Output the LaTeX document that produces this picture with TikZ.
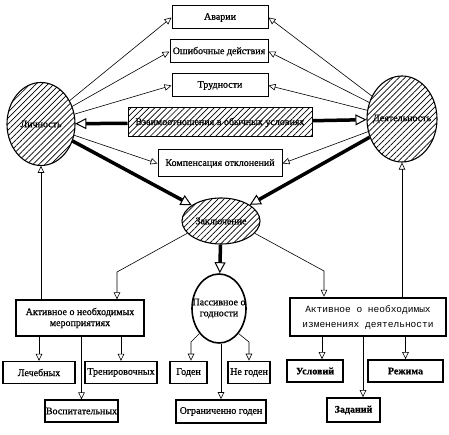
\documentclass[tikz,border=0pt]{standalone}
\usepackage{fontspec}
\setmainfont{Liberation Serif}[RawFeature={embolden=0.7}]
\newfontfamily\typefont{Liberation Mono}
\usetikzlibrary{arrows.meta,shapes.geometric,patterns.meta}

\begin{document}
\begin{tikzpicture}[
    x=1pt, y=-1pt,
    every node/.style={font=\fontsize{10}{11}\selectfont},
    box/.style={
        draw,
        line width=1pt,
        inner sep=1pt,
        minimum width=70pt,
        minimum height=22pt
    },
    hatch/.style={pattern={Lines[angle=45,distance=4.2pt,line width=0.7pt]}},
    blob/.style={
        draw,
        ellipse,
        line width=1.1pt,
        inner xsep=-14pt,
        inner ysep=-4pt,
        align=center
    },
    arr/.style={-{Triangle[open,length=7pt,width=6.5pt]}, line width=0.6pt},
    barr/.style={-{Triangle[open,length=11pt,width=11pt,line width=1pt]}, line width=3.5pt}
]
    \useasboundingbox (0,0) rectangle (449,435);

    % Personality and activity
    \node[blob, hatch, minimum width=68pt, minimum height=83pt] (lich) at (41,124) {Личность};
    \node[blob, hatch, minimum width=70pt, minimum height=86pt] (deyat) at (402,119) {Деятельность};

    % Middle boxes
    \node[box, minimum width=96pt, minimum height=23pt] (avar) at (220,17.5) {Аварии};
    \node[box, minimum width=98pt, minimum height=23pt] (oshib) at (219,51.5) {Ошибочные действия};
    \node[box, minimum width=96pt, minimum height=23pt] (trud) at (220,85.5) {Трудности};
    \node[box, hatch, minimum width=184pt, minimum height=29pt] (vzaim) at (220,122.5) {Взаимоотношения в обычных условиях};
    \node[box, minimum width=124pt, minimum height=27pt] (komp) at (220,163.5) {Компенсация отклонений};

    % Conclusion
    \node[blob, hatch, minimum width=78pt, minimum height=46pt] (zakl) at (221,221) {Заключение};
    \node[blob, line width=1.6pt, minimum width=54pt, minimum height=69pt] (pass) at (219,308.5) {Пассивное о\\годности};

    % Active measures
    \node[box, align=center, line width=1.3pt, minimum width=128pt, minimum height=36pt] (akt1) at (80,318) {Активное о необходимых\\мероприятиях};
    \node[box, align=center, line width=2.5pt, minimum width=156pt, minimum height=38pt,
        font=\typefont\fontsize{9.5}{15}\selectfont] (akt2) at (368,317) {Активное о необходимых\\изменениях деятельности};

    % Bottom row
    \node[box, line width=1.3pt, minimum width=72pt] (lech) at (39,372.5) {Лечебных};
    \node[box, line width=1.3pt, minimum width=72pt] (tren) at (121,372.5) {Тренировочных};
    \node[box, line width=1.3pt, minimum width=73pt] (vosp) at (81.5,411) {Воспитательных};
    \node[box, line width=1.6pt, minimum width=37pt] (goden) at (188.5,372.5) {Годен};
    \node[box, line width=1.6pt, minimum width=42pt] (negoden) at (249,372.5) {Не годен};
    \node[box, line width=1.6pt, minimum width=90pt, minimum height=23pt] (ogr) at (221,411.5) {Ограниченно годен};
    \node[box, line width=1.8pt, minimum width=56pt, font=\bfseries\fontsize{10}{11}\selectfont] (usl) at (315,371) {Условий};
    \node[box, line width=1.8pt, minimum width=75pt, font=\bfseries\fontsize{10}{11}\selectfont] (rezh) at (405.5,371) {Режима};
    \node[box, line width=1.8pt, minimum width=53pt, minimum height=24pt, font=\bfseries\fontsize{10}{11}\selectfont] (zad) at (353.5,410) {Заданий};

    % Bends
    \coordinate (b1) at (117,272);
    \coordinate (b2) at (324,271);
    \coordinate (b3) at (191,342);
    \coordinate (b4) at (249,342);

    % Arrows from personality
    \draw[arr] (lich) -- (avar.west);
    \draw[arr] (lich) -- (oshib.west);
    \draw[arr] (lich) -- (trud.west);
    \draw[arr] (lich) -- (komp.west);
    \draw[barr] (vzaim) -- (lich);
    \draw[barr] (lich) -- (zakl);

    % Arrows from activity
    \draw[arr] (deyat) -- (avar.east);
    \draw[arr] (deyat) -- (oshib.east);
    \draw[arr] (deyat) -- (trud.east);
    \draw[arr] (deyat) -- (komp.east);
    \draw[barr] (vzaim) -- (deyat);
    \draw[barr] (deyat) -- (zakl);

    % From conclusion
    \draw[barr] (zakl) -- (pass);
    \draw[arr] (zakl.200) -- (b1) -- (b1 |- akt1.north);
    \draw[arr] (zakl.340) -- (b2) -- (b2 |- akt2.north);
    \draw[arr] (akt1.north -| lich.south) -- (lich.south);
    \draw[arr] (akt2.north -| deyat.south) -- (deyat.south);

    % Outcomes
    \draw[arr] (akt1.south -| lech.north) -- (lech.north);
    \draw[arr] (akt1.south -| tren.north) -- (tren.north);
    \draw[arr] (akt1.south -| vosp.north) -- (vosp.north);
    \draw[arr] (pass.232) -- (b3) -- (b3 |- goden.north);
    \draw[arr] (pass.308) -- (b4) -- (b4 |- negoden.north);
    \draw[arr] (pass.south -| ogr.north) -- (ogr.north);
    \draw[arr] (akt2.south -| usl.north) ++(7pt,0) -- ([xshift=7pt]usl.north);
    \draw[arr] (akt2.south -| rezh.north) -- (rezh.north);
    \draw[arr] (akt2.south -| zad.north) ++(9.5pt,0) -- ([xshift=9.5pt]zad.north);

\end{tikzpicture}
\end{document}
